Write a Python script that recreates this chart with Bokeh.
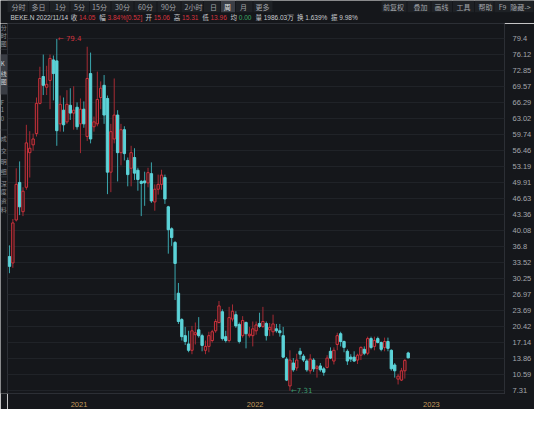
import numpy as np
import pandas as pd
from bokeh.plotting import figure
from bokeh.layouts import column, row
from bokeh.models import Range1d, FixedTicker, ColumnDataSource
from bokeh.core.properties import value
from bokeh.embed import file_html
from bokeh.resources import INLINE

# ---------------- data (weekly candles, BEKE.N) ----------------
first_week = "2020-08-10"
opens = [34.8, 33.5, 42.3, 50.0, 44.0, 49.0, 56.1, 57.7, 60.0, 66.2,
         71.7, 69.5, 70.9, 75.1, 74.9, 62.0, 64.8, 62.4, 65.8, 64.2,
         65.4, 62.0, 65.0, 59.4, 72.3, 61.4, 62.0, 67.4, 69.9, 67.2,
         52.1, 58.9, 63.8, 56.1, 60.8, 54.5, 52.9, 55.1, 52.5, 50.2,
         50.3, 49.9, 51.8, 46.0, 48.6, 49.6, 51.0, 45.0, 40.5, 37.7,
         27.3, 21.9, 18.6, 16.9, 15.6, 18.8, 19.8, 18.6, 15.6, 16.4,
         17.6, 19.6, 21.3, 23.5, 18.4, 17.6, 22.0, 22.9, 20.9, 18.6,
         21.3, 18.6, 18.6, 19.6, 21.1, 20.5, 21.1, 19.8, 19.4, 20.0,
         19.6, 18.6, 13.8, 8.3, 13.0, 12.0, 15.4, 14.4, 13.4, 11.4,
         13.6, 11.9, 12.4, 11.8, 12.1, 15.4, 13.4, 16.8, 19.0, 17.4,
         15.4, 14.2, 14.2, 13.6, 14.6, 15.8, 15.0, 18.0, 16.4, 18.0,
         17.2, 16.2, 17.4, 15.6, 12.6, 9.7, 9.5, 11.4, 15.06]
highs = [37.1, 42.5, 52.9, 54.3, 49.0, 61.8, 60.5, 60.0, 67.4, 73.7,
         76.2, 73.9, 76.2, 76.0, 79.4, 67.8, 67.4, 68.9, 69.3, 69.7,
         66.4, 67.2, 66.6, 77.8, 76.6, 63.5, 72.7, 70.7, 72.0, 67.8,
         62.0, 71.3, 64.8, 62.0, 61.5, 55.1, 57.5, 57.0, 53.0, 50.5,
         52.2, 53.0, 54.1, 49.6, 51.6, 52.6, 51.6, 45.2, 40.8, 38.0,
         29.4, 22.2, 20.4, 19.6, 20.6, 21.3, 22.4, 19.0, 17.6, 19.4,
         19.8, 22.0, 25.7, 24.0, 19.6, 24.5, 25.0, 23.6, 21.3, 22.6,
         21.5, 20.4, 21.5, 21.5, 23.3, 24.5, 21.5, 21.2, 22.9, 21.0,
         21.0, 20.4, 14.2, 15.6, 14.0, 14.9, 16.1, 14.8, 13.8, 14.8,
         14.0, 12.6, 13.0, 12.2, 14.6, 16.2, 16.2, 19.2, 19.4, 17.6,
         15.8, 14.8, 15.4, 14.9, 16.4, 16.4, 18.4, 18.4, 18.4, 18.4,
         17.4, 18.2, 18.2, 15.8, 13.0, 10.8, 12.0, 13.8, 15.31]
lows = [31.4, 32.5, 42.0, 43.3, 43.1, 48.5, 51.0, 56.5, 59.4, 66.0,
        67.9, 67.9, 65.0, 66.8, 57.5, 60.4, 60.4, 62.0, 62.8, 60.8,
        60.8, 56.0, 61.2, 58.5, 58.0, 60.4, 61.5, 65.0, 62.0, 47.6,
        48.0, 58.0, 50.2, 53.5, 54.5, 49.2, 49.2, 50.5, 48.3, 43.1,
        45.2, 49.0, 45.8, 44.2, 47.5, 48.5, 45.6, 35.4, 37.0, 25.9,
        21.0, 17.6, 16.7, 15.2, 14.8, 16.8, 18.2, 15.4, 14.8, 15.2,
        17.2, 19.2, 21.1, 17.6, 17.2, 17.2, 21.5, 20.2, 17.0, 18.2,
        16.0, 18.2, 16.4, 18.8, 20.2, 20.2, 17.6, 18.5, 18.6, 19.2,
        18.4, 14.0, 9.3, 7.31, 11.2, 11.4, 13.8, 13.2, 11.2, 10.8,
        11.2, 10.0, 11.2, 10.4, 11.9, 13.8, 12.7, 15.6, 16.4, 15.2,
        12.6, 13.2, 13.2, 12.8, 13.6, 14.6, 14.6, 15.8, 15.6, 17.0,
        15.4, 15.4, 15.4, 11.4, 10.0, 8.6, 9.3, 9.8, 13.96]
closes = [32.8, 41.7, 49.6, 45.0, 48.2, 58.1, 57.0, 58.9, 66.2, 71.3,
          69.9, 70.1, 75.4, 72.3, 60.6, 66.0, 61.8, 66.0, 64.2, 64.8,
          61.4, 65.0, 62.0, 71.3, 58.9, 62.4, 67.0, 69.3, 63.8, 52.1,
          60.4, 63.8, 56.1, 60.8, 55.9, 51.6, 56.1, 51.9, 50.6, 49.8,
          49.9, 52.0, 46.2, 48.6, 49.6, 51.5, 46.6, 40.3, 38.7, 33.4,
          21.5, 18.4, 17.4, 15.6, 19.6, 19.2, 18.6, 16.6, 16.4, 18.6,
          19.4, 21.5, 24.7, 18.0, 17.6, 22.3, 23.6, 20.6, 17.4, 21.7,
          19.0, 18.9, 20.0, 20.8, 20.5, 21.5, 18.6, 20.3, 21.0, 19.6,
          19.2, 14.2, 9.5, 13.6, 11.6, 13.6, 14.8, 13.6, 11.6, 13.8,
          11.8, 12.2, 11.6, 11.1, 14.0, 14.0, 15.6, 18.6, 17.4, 16.2,
          13.4, 13.8, 13.4, 14.6, 16.2, 15.0, 18.0, 16.2, 17.6, 17.2,
          15.8, 17.4, 16.0, 11.8, 11.4, 10.3, 11.4, 13.53, 14.05]

price_ticks = [79.4, 76.12, 72.85, 69.57, 66.29, 63.02, 59.74, 56.46, 53.19,
               49.91, 46.63, 43.36, 40.08, 36.8, 33.52, 30.25, 26.97, 23.69,
               20.42, 17.14, 13.86, 10.59, 7.31]
price_tick_labels = ["79.4", "76.12", "72.85", "69.57", "66.29", "63.02", "59.74",
                     "56.46", "53.19", "49.91", "46.63", "43.36", "40.08", "36.8",
                     "33.52", "30.25", "26.97", "23.69", "20.42", "17.14", "13.86",
                     "10.59", "7.31"]
year_ticks = ["2021-01-01", "2022-01-01", "2023-01-01"]
year_labels = ["2021", "2022", "2023"]

period_buttons = ["分时", "多日", "1分", "5分", "15分", "30分", "60分", "90分",
                  "2小时", "日", "周", "月", "更多"]
active_period = "周"
tool_buttons = ["前复权", "叠加", "画线", "工具", "帮助", "F9", "隐藏->"]

info_segments = ["BEKE.N 2022/11/14", "收", "14.05", "幅", "3.84%[0.52]", "开", "15.06",
                 "高", "15.31", "低", "13.96", "均", "0.00", "量", "1986.03万",
                 "换", "1.639%", "振", "9.98%"]
info_kind = ["name", "lab", "up", "lab", "up", "lab", "up", "lab", "up", "lab", "up",
             "lab", "eq", "lab", "plain", "lab", "plain", "lab", "plain"]

side_chars = ["分", "时", "图", "K", "线", "图", "F", "1", "0", "成", "交", "明", "细",
              "深", "度", "资", "料"]
side_active = ["K", "线", "图"]

# ---------------- layout (pixel positions of the header items) ----------------
period_centers = [18, 38, 60, 79, 99, 122, 145, 168, 193, 213, 227, 243, 262]
tool_centers = [393, 420, 441, 463, 485, 502, 520]
info_left = [10, 70.3, 78.6, 98.7, 107, 144.9, 153.2, 173.3, 181.6, 201.7, 210,
             230, 238.3, 254.9, 263.2, 296.5, 304.8, 330.5, 338.8]
side_y = [27, 35, 44, 65, 75, 84, 105, 113, 122, 143, 155, 167, 177, 190, 198, 208, 217]

W, H = 534, 409
HEAD_H = 23
SIDE_W = 7
PX_PER_WEEK = 3.42
FRAME_RIGHT = 510
BOTTOM_BORDER = 12
BG = "#15171b"
UP = "#cc333d"
UP_FILL = "#2a1518"
DOWN = "#5cd3d8"
UP_WICK = "#a52b34"
DOWN_WICK = "#3aa6ad"
TXT = "#a3a6ab"
CJK = "Noto Sans CJK SC"


def bare(fig):
    fig.axis.visible = False
    fig.grid.visible = False
    fig.outline_line_color = None
    fig.min_border = 0
    return fig


# ---------------- header strip (toolbar + quote line) ----------------
head = bare(figure(width=W, height=HEAD_H, x_range=Range1d(0, W), y_range=Range1d(HEAD_H, 0),
                   output_backend="svg", toolbar_location=None,
                   background_fill_color=BG, border_fill_color=BG))


def cells(centers, first_left, last_right):
    mids = [(a + b) / 2 for a, b in zip(centers[:-1], centers[1:])]
    lefts = [first_left] + [m + 0.5 for m in mids]
    rights = [m - 0.5 for m in mids] + [last_right]
    return lefts, rights


pl, pr = cells(period_centers, 7, 272)
tl, tr = cells(tool_centers, 381, 533)
nb = len(pl) + len(tl)
head.quad(left=pl + tl, right=pr + tr, top=[0.3] * nb, bottom=[11.8] * nb,
          fill_color=["#3b3e45" if t == active_period else "#1e2125" for t in period_buttons]
          + ["#1e2125"] * len(tool_buttons), line_color=None)
head.text(x=period_centers + tool_centers, y=[6.3] * nb,
          text=period_buttons + tool_buttons, text_align="center", text_baseline="middle",
          text_font=value(CJK), text_font_size="7px",
          text_color=["#e6e6e6" if t == active_period else TXT for t in period_buttons]
          + [TXT] * len(tool_buttons))

kind_color = {"name": "#c9cbcf", "lab": "#c9cbcf", "up": "#d8333d", "eq": "#3aa865",
              "plain": "#c9cbcf"}
lab_idx = [i for i, k in enumerate(info_kind) if k == "lab"]
val_idx = [i for i, k in enumerate(info_kind) if k != "lab"]
head.text(x=[info_left[i] for i in lab_idx], y=[16.6] * len(lab_idx),
          text=[info_segments[i] for i in lab_idx], text_baseline="middle",
          text_font=value(CJK), text_font_size="6.5px", text_color="#c9cbcf")
head.text(x=[info_left[i] for i in val_idx], y=[16.6] * len(val_idx),
          text=[info_segments[i] for i in val_idx], text_baseline="middle",
          text_font=value("Liberation Sans"), text_font_size="6.5px",
          text_color=[kind_color[info_kind[i]] for i in val_idx])

# ---------------- left side tab strip ----------------
MAIN_H = H - HEAD_H
side = bare(figure(width=SIDE_W, height=MAIN_H, x_range=Range1d(0, SIDE_W),
                   y_range=Range1d(MAIN_H, 0),
                   output_backend="svg", toolbar_location=None,
                   background_fill_color=BG, border_fill_color=BG))
side.quad(left=[0], right=[SIDE_W - 0.5], top=[55 - HEAD_H], bottom=[97 - HEAD_H],
          fill_color="#3a3d44", line_color=None)
side.text(x=[0.3] * len(side_chars), y=[yy - HEAD_H for yy in side_y], text=side_chars,
          text_baseline="middle", text_font=value(CJK), text_font_size="6px",
          text_color=["#d0d2d6" if (t in side_active and 55 < yy < 97) else "#8e9196"
                      for t, yy in zip(side_chars, side_y)])
side.segment(x0=[0, 0, 0], x1=[SIDE_W] * 3,
             y0=[50 - HEAD_H, 134 - HEAD_H, 183 - HEAD_H],
             y1=[50 - HEAD_H, 134 - HEAD_H, 183 - HEAD_H], line_color="#2c2f35")

# ---------------- main candlestick chart ----------------
dates = pd.date_range(first_week, periods=len(opens), freq="7D")
WEEK = 7 * 24 * 3600 * 1000
t0 = dates[0].value // 10**6
x_start = t0 - (2 / PX_PER_WEEK) * WEEK
x_end = x_start + ((FRAME_RIGHT - SIDE_W) / PX_PER_WEEK) * WEEK

o = np.array(opens); c = np.array(closes)
up = c >= o
src = ColumnDataSource(dict(
    date=dates, high=highs, low=lows,
    top=np.maximum(o, c), bottom=np.minimum(o, c),
    line=[UP if u else DOWN for u in up],
    fill=[UP_FILL if u else DOWN for u in up],
    wick=[UP_WICK if u else DOWN_WICK for u in up],
))

p = figure(width=W - SIDE_W, height=MAIN_H, x_axis_type="datetime", y_axis_location="right",
           x_range=Range1d(x_start, x_end),
           y_range=Range1d(6.75, 82.56),
           output_backend="svg", toolbar_location=None,
           background_fill_color=BG, border_fill_color=BG,
           min_border_left=0, min_border_right=W - FRAME_RIGHT, min_border_top=0,
           min_border_bottom=BOTTOM_BORDER)
p.outline_line_color = "#2c2f35"

p.segment(x0="date", y0="high", x1="date", y1="low", line_color="wick", line_width=1, source=src)
p.vbar(x="date", width=0.7 * WEEK, top="top", bottom="bottom",
       fill_color="fill", line_color="line", line_width=1, source=src)

ya = p.yaxis[0]
ya.ticker = FixedTicker(ticks=price_ticks)
ya.major_label_overrides = {v: s for v, s in zip(price_ticks, price_tick_labels)}
ya.major_label_text_color = TXT
ya.major_label_text_font = "Liberation Sans"
ya.major_label_text_font_size = "7.5px"
ya.axis_line_color = None
ya.major_tick_line_color = None
ya.minor_tick_line_color = None
ya.major_label_standoff = 2
p.ygrid.ticker = FixedTicker(ticks=price_ticks)
p.ygrid.grid_line_color = "#202328"
p.xgrid.visible = False

xa = p.xaxis[0]
yt_ms = [pd.Timestamp(d).value // 10**6 for d in year_ticks]
xa.ticker = FixedTicker(ticks=yt_ms)
xa.major_label_overrides = {v: s for v, s in zip(yt_ms, year_labels)}
xa.major_label_text_color = "#c49a5c"
xa.major_label_text_font = "Liberation Sans"
xa.major_label_text_font_size = "7.5px"
xa.axis_line_color = None
xa.major_tick_line_color = None
xa.minor_tick_line_color = None
xa.major_label_standoff = 2

imax = int(np.argmax(highs)); imin = int(np.argmin(lows))
p.text(x=[dates[imax]], y=[highs[imax]], text=["← " + f"{highs[imax]:g}"], x_offset=1,
       text_baseline="middle", text_color=UP, text_font_size="7px",
       text_font=value("DejaVu Sans"))
p.text(x=[dates[imin]], y=[lows[imin]], text=["←" + f"{lows[imin]:g}"], x_offset=1,
       text_baseline="middle", text_color="#3d9c70", text_font_size="7px",
       text_font=value("DejaVu Sans"))

layout = column(head, row(side, p, spacing=0), spacing=0)
open("out.html", "w").write(file_html(layout, INLINE))
